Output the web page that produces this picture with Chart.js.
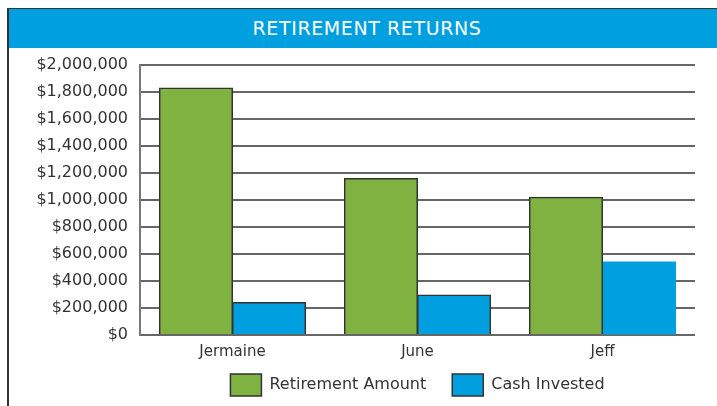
<!DOCTYPE html>
<html>
<head>
<meta charset="utf-8">
<script src="https://cdn.jsdelivr.net/npm/chart.js@4"></script>
<style>
  html, body { margin: 0; padding: 0; background: #fff; overflow: hidden; }
  #frame { position: absolute; left: 7px; top: 8px; width: 720px; height: 410px;
           border-left: 2px solid #333; border-top: 2px solid #333; }
  #banner { position: absolute; left: 9px; top: 9px; width: 700px; padding-left: 8px; height: 39px;
            background: #009FDF; color: #fff; font: 500 19px "DejaVu Sans", sans-serif;
            text-align: center; line-height: 39px; letter-spacing: 0.6px; }
  #wrap { position: absolute; left: 0; top: 48px; width: 717px; height: 358px; }
</style>
</head>
<body>
<div id="frame"></div>
<div id="banner">RETIREMENT RETURNS</div>
<div id="wrap"><canvas id="c"></canvas></div>
<script>
const people = ['Jermaine', 'June', 'Jeff'];
const retirementAmount = [1830000, 1160000, 1020000];
const cashInvested = [240000, 296000, 540000];
const yTicks = [0, 200000, 400000, 600000, 800000, 1000000, 1200000, 1400000, 1600000, 1800000, 2000000];

const GREEN = '#7FB241';
const BLUE = '#009FDF';
const INK = '#333333';
const FONT = '"DejaVu Sans", sans-serif';

const money = v => '$' + v.toLocaleString('en-US');

// centre the legend under the plot area, and give the x labels room to draw
const tweakLayout = {
    id: 'tweakLayout',
    afterLayout(chart) {
        const l = chart.legend, a = chart.chartArea, x = chart.scales.x;
        if (l && a) {
            l.left = a.left;
            l.right = a.right;
            l.width = a.right - a.left;
        }
        if (x) {
            x.bottom += 24;
            x.height += 24;
        }
    }
};

new Chart(document.getElementById('c'), {
    type: 'bar',
    data: {
        labels: people,
        datasets: [
            { label: 'Retirement Amount', data: retirementAmount, backgroundColor: GREEN, borderColor: INK, borderWidth: 1.5 },
            { label: 'Cash Invested', data: cashInvested, backgroundColor: BLUE, borderColor: INK,
              borderWidth: ctx => (ctx.dataIndex === 2 ? 0 : 1.5) }
        ]
    },
    options: {
        responsive: true,
        maintainAspectRatio: false,
        animation: false,
        layout: { padding: { top: 17, right: 22, left: 0, bottom: 0 } },
        datasets: { bar: { categoryPercentage: 0.79, barPercentage: 1, inflateAmount: 0.5 } },
        plugins: {
            title: { display: false },
            tooltip: { enabled: false },
            legend: {
                position: 'bottom',
                labels: { color: INK, font: { family: FONT, size: 16 }, boxWidth: 31, boxHeight: 22, padding: 26 }
            }
        },
        scales: {
            x: {
                grid: { display: false },
                border: { display: false },
                ticks: { color: INK, font: { family: FONT, size: 15 }, padding: 0 },
                afterFit: s => { s.height = 13; }
            },
            y: {
                min: 0, max: 2000000,
                afterBuildTicks: s => { s.ticks = yTicks.map(v => ({ value: v })); },
                grid: { color: '#666', lineWidth: 2, drawTicks: false },
                border: { color: '#777', width: 2 },
                ticks: { color: INK, font: { family: FONT, size: 16 }, padding: 12, callback: v => money(v) },
                afterFit: s => { s.width = 140; s.paddingTop = 0; s.paddingBottom = 0; }
            }
        }
    },
    plugins: [tweakLayout]
});
</script>
</body>
</html>
